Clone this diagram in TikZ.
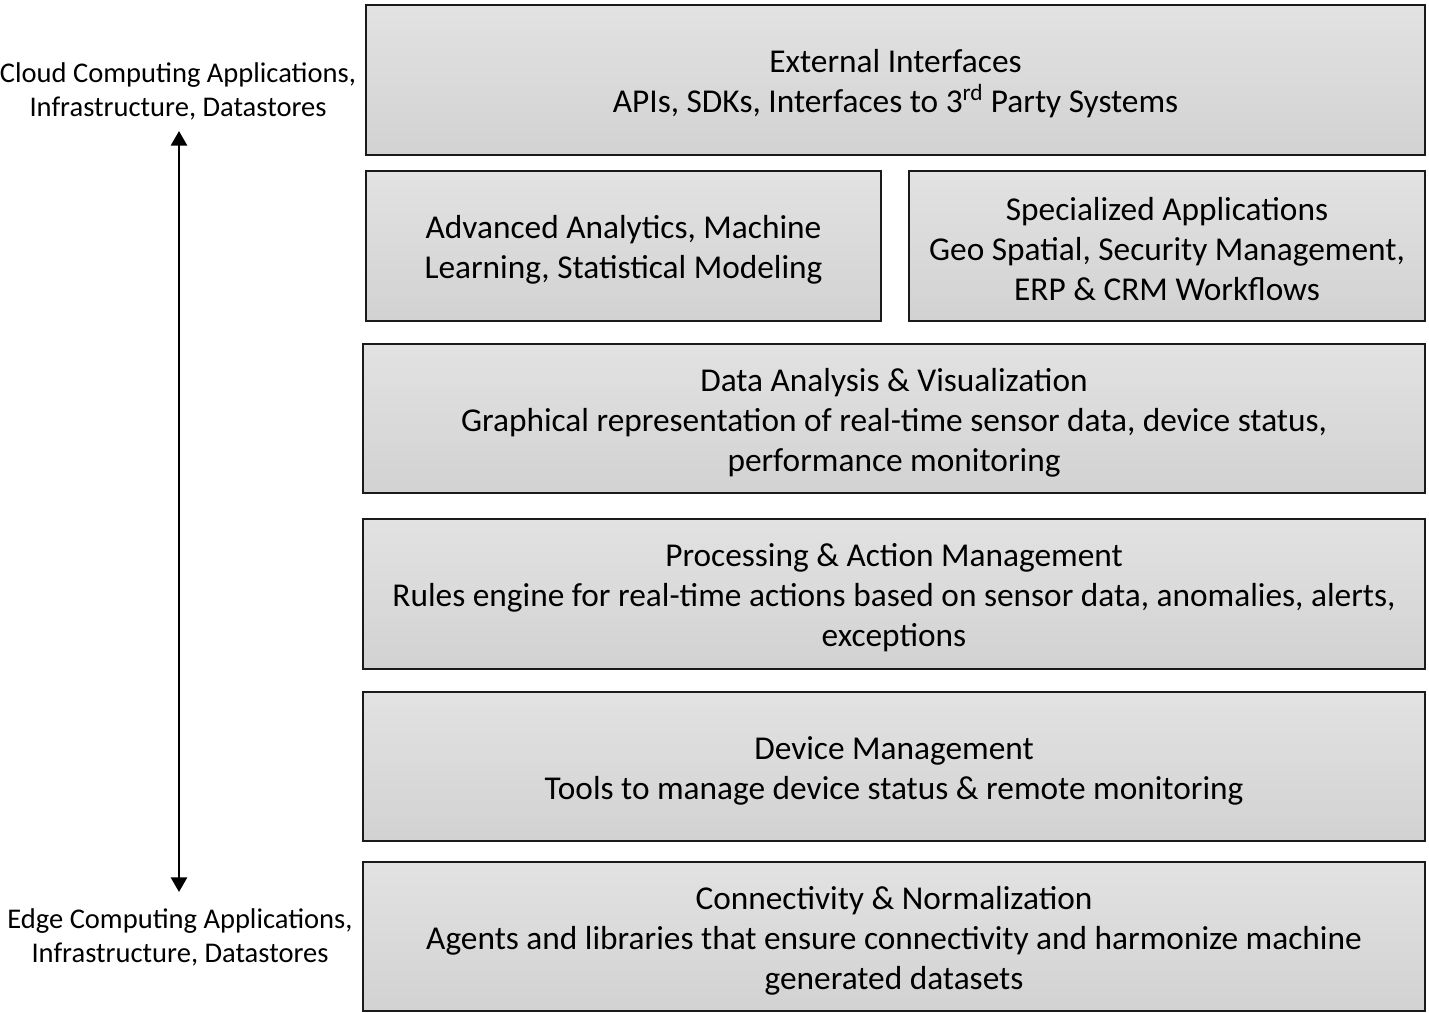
\documentclass[tikz,border=0pt]{standalone}
\usepackage{fontspec}
\setmainfont{Carlito}
\usetikzlibrary{arrows.meta}
\definecolor{edgec}{HTML}{1A1A1A}
\definecolor{topc}{HTML}{E2E2E2}
\definecolor{botc}{HTML}{D2D2D2}
\tikzset{
  layer/.style={draw=edgec, line width=2.2pt, top color=topc, bottom color=botc,
    rectangle, inner sep=0pt},
  boxtext/.style={align=center, inner sep=0pt, font=\fontsize{25}{30}\selectfont, text=black},
  side/.style={align=center, inner sep=0pt, font=\fontsize{21.4}{25.5}\selectfont},
}
\begin{document}
\begin{tikzpicture}[x=0.75pt,y=-0.75pt]
\useasboundingbox (0,0) rectangle (1429,1013);
\node[layer, minimum width=794.25pt, minimum height=112.5pt] (ext) at (895.5,80) {};
\node[boxtext] (extt) at ([yshift=-3pt]ext.center)
  {External Interfaces\\APIs, SDKs, Interfaces to 3\textsuperscript{rd} Party Systems};
\node[layer, minimum width=386.25pt, minimum height=112.5pt] (adv) at (623.5,246) {};
\node[boxtext] (advt) at ([yshift=-3pt]adv.center)
  {Advanced Analytics, Machine\\Learning, Statistical Modeling};
\node[layer, minimum width=387pt, minimum height=112.5pt] (spec) at (1167,246) {};
\node[boxtext] (spect) at ([yshift=-2pt]spec.center)
  {Specialized Applications\\Geo Spatial, Security Management,\\ERP \& CRM Workflows};
\node[layer, minimum width=796.5pt, minimum height=111.75pt] (data) at (894,418.5) {};
\node[boxtext] (datat) at ([yshift=-3pt]data.center)
  {Data Analysis \& Visualization\\Graphical representation of real-time sensor data, device status,\\performance monitoring};
\node[layer, minimum width=796.5pt, minimum height=112.5pt] (proc) at (894,594) {};
\node[boxtext] (proct) at ([yshift=-3pt]proc.center)
  {Processing \& Action Management\\Rules engine for real-time actions based on sensor data, anomalies, alerts,\\exceptions};
\node[layer, minimum width=796.5pt, minimum height=111.75pt] (dev) at (894,766.5) {};
\node[boxtext] (devt) at ([yshift=-3pt]dev.center)
  {Device Management\\Tools to manage device status \& remote monitoring};
\node[layer, minimum width=796.5pt, minimum height=111.75pt] (conn) at (894,936.5) {};
\node[boxtext] (connt) at ([yshift=-3pt]conn.center)
  {Connectivity \& Normalization\\Agents and libraries that ensure connectivity and harmonize machine\\generated datasets};
\node[side] (cloud) at (178,91) {Cloud Computing Applications,\\Infrastructure, Datastores};
\node[side] (edge) at (180,937) {Edge Computing Applications,\\Infrastructure, Datastores};
\coordinate (atop) at (179,131);
\coordinate (abot) at (179,892);
\draw[line width=2.2pt, {Triangle[length=11pt,width=12pt]}-{Triangle[length=11pt,width=12pt]}] (atop) -- (abot);
\end{tikzpicture}
\end{document}
